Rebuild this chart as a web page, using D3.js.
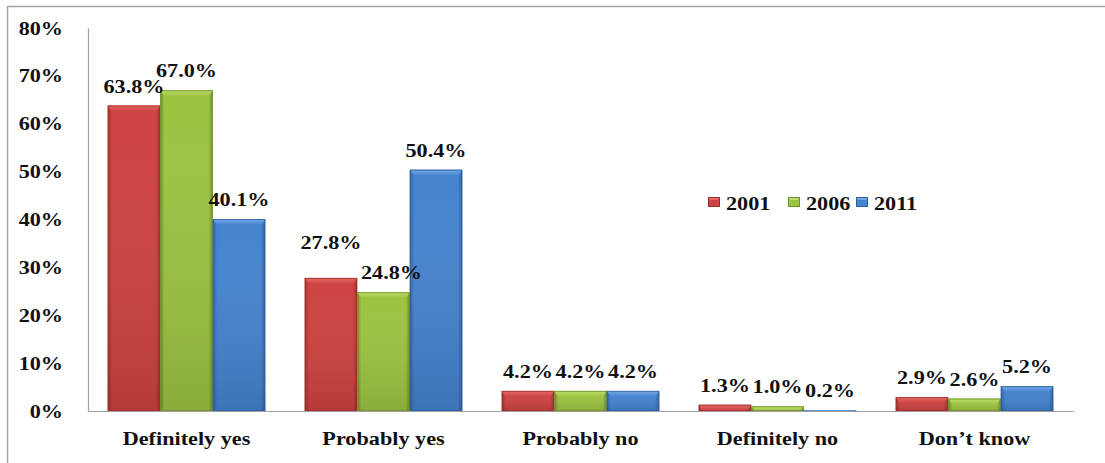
<!DOCTYPE html>
<html>
<head>
<meta charset="utf-8">
<script src="https://cdn.jsdelivr.net/npm/d3@7/dist/d3.min.js"></script>
<style>
  html, body { margin: 0; padding: 0; background: #fff; }
  svg { display: block; }
  text { font-family: "Liberation Serif", "Times New Roman", serif; font-weight: bold; fill: #111; }
</style>
</head>
<body>
<svg id="chart" width="1105" height="463"></svg>
<script>
// Survey answers by year (percent)
const categories = ["Definitely yes", "Probably yes", "Probably no", "Definitely no", "Don\u2019t know"];
const years = ["2001", "2006", "2011"];
const values2001 = [63.8, 27.8, 4.2, 1.3, 2.9];
const values2006 = [67.0, 24.8, 4.2, 1.0, 2.6];
const values2011 = [40.1, 50.4, 4.2, 0.2, 5.2];
const yTicks = [0, 10, 20, 30, 40, 50, 60, 70, 80];

const seriesValues = [values2001, values2006, values2011];

// Fill palettes per series: [edge, body, top bevel light]
const palettes = [
  { edge: "#9e2e2c", body: "#cd4341", light: "#e56a66" },
  { edge: "#6f8f2a", body: "#9dc342", light: "#bedd6a" },
  { edge: "#2f5f9e", body: "#4583cf", light: "#75a9e6" }
];

// Small manual offsets for crowded value labels: [dx, dy]
const labelNudge = {
  "Probably yes|2001": [0, -16],
  "Probably yes|2006": [8, 0]
};

const svg = d3.select("#chart");
const W = 1105, H = 463;
const plotL = 88, plotR = 1073, plotT = 28, plotB = 411;
const sx = 1.2; // horizontal stretch applied to all text

// Outer frame (top and left edges)
svg.append("line").attr("x1", 7).attr("x2", W).attr("y1", 6.5).attr("y2", 6.5)
  .attr("stroke", "#a6a6a6").attr("stroke-width", 1.5);
svg.append("line").attr("x1", 7.5).attr("x2", 7.5).attr("y1", 6).attr("y2", H)
  .attr("stroke", "#a6a6a6").attr("stroke-width", 1.5);

const x = d3.scaleBand().domain(categories).range([plotL, plotR])
  .paddingInner(0.2).paddingOuter(0.1);
const xs = d3.scaleBand().domain(years).range([0, x.bandwidth()]);
const y = d3.scaleLinear().domain([0, 80]).range([plotB, plotT]);

// Gradients
const defs = svg.append("defs");
palettes.forEach((p, i) => {
  const g = defs.append("linearGradient").attr("id", "body" + i)
    .attr("x1", "0").attr("x2", "1").attr("y1", "0").attr("y2", "0");
  g.append("stop").attr("offset", "0").attr("stop-color", p.edge);
  g.append("stop").attr("offset", "0.08").attr("stop-color", p.body);
  g.append("stop").attr("offset", "0.92").attr("stop-color", p.body);
  g.append("stop").attr("offset", "1").attr("stop-color", p.edge);
  const v = defs.append("linearGradient").attr("id", "shade" + i)
    .attr("x1", "0").attr("x2", "0").attr("y1", "0").attr("y2", "1");
  v.append("stop").attr("offset", "0").attr("stop-color", "#fff").attr("stop-opacity", 0);
  v.append("stop").attr("offset", "1").attr("stop-color", "#000").attr("stop-opacity", 0.12);
  const t = defs.append("linearGradient").attr("id", "bevel" + i)
    .attr("x1", "0").attr("x2", "0").attr("y1", "0").attr("y2", "1");
  t.append("stop").attr("offset", "0").attr("stop-color", p.light);
  t.append("stop").attr("offset", "1").attr("stop-color", p.body);
});

// Axes
const yAxis = d3.axisLeft(y).tickValues(yTicks).tickSize(0).tickFormat(d => d + "%");
const gy = svg.append("g").attr("transform", `translate(${plotL},0)`).call(yAxis);
gy.select(".domain").attr("stroke", "#a0a0a0").attr("stroke-width", 1.2);
gy.selectAll(".tick text")
  .attr("x", null).attr("dy", null)
  .attr("text-anchor", "end")
  .attr("font-size", 18.5)
  .attr("transform", `translate(${63 - plotL},6) scale(${sx},1)`);

const xAxis = d3.axisBottom(x).tickSize(0).tickSizeOuter(0);
const gx = svg.append("g").attr("transform", `translate(0,${plotB})`).call(xAxis);
gx.select(".domain").attr("stroke", "#a0a0a0").attr("stroke-width", 1.2);
gx.selectAll(".tick text")
  .attr("y", null).attr("dy", null)
  .attr("text-anchor", "middle")
  .attr("font-size", 18.5)
  .attr("transform", `translate(0,${445 - plotB}) scale(${sx},1)`);
svg.selectAll(".tick text").style("font-family", "'Liberation Serif', serif").style("font-weight", "bold").attr("fill", "#111");

// Bars
const rows = [];
categories.forEach((c, ci) => {
  years.forEach((yr, si) => {
    rows.push({ cat: c, year: yr, si: si, v: seriesValues[si][ci] });
  });
});

const bars = svg.append("g").selectAll("g.bar").data(rows).join("g").attr("class", "bar");
bars.each(function (d) {
  const g = d3.select(this);
  const bx = x(d.cat) + xs(d.year);
  const bw = xs.bandwidth();
  const by = y(d.v);
  const bh = y(0) - by;
  const p = palettes[d.si];
  g.append("rect").attr("x", bx).attr("y", by).attr("width", bw).attr("height", bh)
    .attr("fill", `url(#body${d.si})`);
  g.append("rect").attr("x", bx).attr("y", by).attr("width", bw).attr("height", bh)
    .attr("fill", `url(#shade${d.si})`);
  const bev = Math.min(6, bh);
  g.append("path")
    .attr("d", `M${bx},${by} L${bx + bw},${by} L${bx + bw - 4},${by + bev} L${bx + 4},${by + bev} Z`)
    .attr("fill", `url(#bevel${d.si})`);
  g.append("rect").attr("x", bx + 0.5).attr("y", by + 0.5).attr("width", bw - 1).attr("height", Math.max(0, bh - 1))
    .attr("fill", "none").attr("stroke", p.edge).attr("stroke-width", 1).attr("stroke-opacity", 0.8);
});

// Value labels
svg.append("g").selectAll("text").data(rows).join("text")
  .attr("text-anchor", "middle")
  .attr("font-size", 18.5)
  .attr("transform", d => {
    const n = labelNudge[d.cat + "|" + d.year] || [0, 0];
    const cx = x(d.cat) + xs(d.year) + xs.bandwidth() / 2 + n[0];
    const cy = y(d.v) - 13 + n[1];
    return `translate(${cx},${cy}) scale(${sx},1)`;
  })
  .text(d => d.v.toFixed(1) + "%");

// Legend
const legend = svg.append("g").attr("transform", "translate(708,197)");
const legendX = [0, 80, 148];
years.forEach((yr, i) => {
  const lg = legend.append("g").attr("transform", `translate(${legendX[i]},0)`);
  lg.append("rect").attr("width", 12).attr("height", 10).attr("fill", `url(#body${i})`);
  lg.append("path").attr("d", "M0,0 L12,0 L10,3 L2,3 Z").attr("fill", palettes[i].light);
  lg.append("rect").attr("x", 0.5).attr("y", 0.5).attr("width", 11).attr("height", 9)
    .attr("fill", "none").attr("stroke", palettes[i].edge).attr("stroke-width", 1);
  lg.append("text").attr("font-size", 18.5)
    .attr("transform", `translate(18,13) scale(${sx},1)`)
    .text(yr);
});
</script>
</body>
</html>
